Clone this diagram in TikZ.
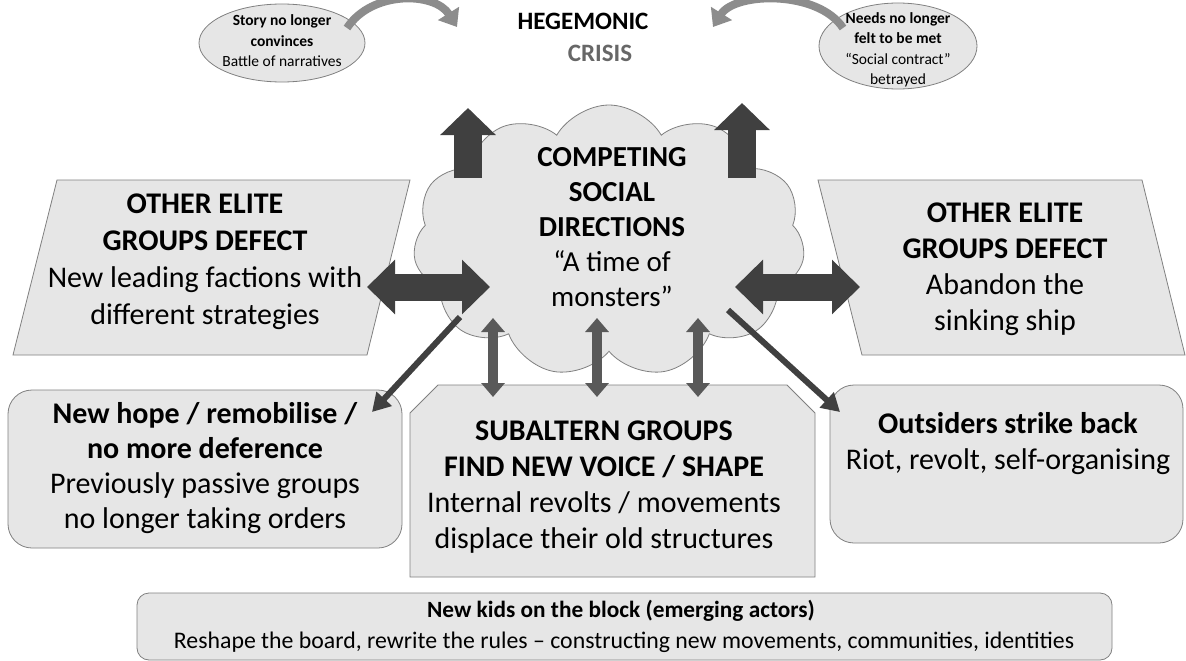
\documentclass[tikz,border=0pt]{standalone}
\usepackage{fontspec}
\setmainfont{Carlito}
\usetikzlibrary{arrows.meta,shapes.symbols,shapes.geometric}
\definecolor{boxfill}{HTML}{E6E6E6}
\definecolor{bordergray}{HTML}{808080}
\definecolor{darkarrow}{HTML}{404040}
\definecolor{midarrow}{HTML}{595959}
\definecolor{curvearrow}{HTML}{8C8C8C}
\definecolor{crisisgray}{HTML}{676767}
\begin{document}
\begin{tikzpicture}[x=1pt,y=-1pt,
  box/.style={draw=bordergray, fill=boxfill, line width=0.8pt},
  bigtext/.style={font=\fontsize{30}{36}\selectfont, align=center, inner sep=0pt},
  smalltext/.style={font=\fontsize{15.5}{20.5}\selectfont, align=center, inner sep=0pt},
  ellbox/.style={box, ellipse, inner sep=0pt},
  fatarrow/.style={draw=darkarrow, line width=27pt},
  fatup/.style={draw=darkarrow, line width=28pt, -{Triangle[length=27pt,width=54pt]}},
  thinboth/.style={draw=midarrow, line width=10pt, {Triangle[length=14pt,width=23pt]}-{Triangle[length=14pt,width=23pt]}},
  diagarrow/.style={draw=darkarrow, line width=6pt, -{Triangle[length=18pt,width=20pt]}},
  curvearr/.style={draw=curvearrow, line width=8pt, -{Triangle[length=16pt,width=24pt]}}
]
\useasboundingbox[fill=white] (0,0) rectangle (1186,661);

% ---- boxes ----
\path[box] (57,180) -- (410,180) -- (367,355) -- (13,355) -- cycle;
\path[box] (818,180) -- (1142,180) -- (1185,355) -- (862,355) -- cycle;
\path[box, rounded corners=24pt] (8,390) rectangle (402,548);
\path[box] (410,413) -- (438,385) -- (787,385) -- (815,413) -- (815,577) -- (410,577) -- cycle;
\path[box, rounded corners=24pt] (830,385) rectangle (1183,543);
\path[box, rounded corners=12pt] (137,593) rectangle (1112,660);

% ---- cloud ----
\node[box, cloud, cloud puffs=11, cloud puff arc=120, aspect=1.45,
      minimum width=392pt, minimum height=272pt, inner sep=0pt] (cloud) at (609,241) {};

% ---- ellipses ----
\node[ellbox, minimum width=166pt, minimum height=78pt] (storyell) at (282,43) {};
\node[ellbox, minimum width=158pt, minimum height=86pt] (needsell) at (898,46) {};

% ---- coordinates for connectors ----
\coordinate (dlA) at (367,287); \coordinate (dlB) at (490,287);
\coordinate (drA) at (735,287); \coordinate (drB) at (860,287);
\coordinate (ulA) at (468,178); \coordinate (ulB) at (468,108);
\coordinate (urA) at (742,178); \coordinate (urB) at (742,103);
\coordinate (v1A) at (493,318); \coordinate (v1B) at (493,397);
\coordinate (v2A) at (597,318); \coordinate (v2B) at (597,397);
\coordinate (v3A) at (698,318); \coordinate (v3B) at (698,397);
\coordinate (dgLA) at (460,317); \coordinate (dgLB) at (372,412);
\coordinate (dgRA) at (728,310); \coordinate (dgRB) at (840,412);
\coordinate (cvLA) at (347,28); \coordinate (cvLB) at (457,27);
\coordinate (cvRA) at (843,28); \coordinate (cvRB) at (713,27);

% ---- arrows ----
\draw[fatup] (ulA) -- (ulB);
\draw[fatup] (urA) -- (urB);
\draw[fatarrow, {Triangle[length=28pt,width=53pt]}-{Triangle[length=28pt,width=53pt]}] (dlA) -- (dlB);
\draw[fatarrow, {Triangle[length=28pt,width=53pt]}-{Triangle[length=28pt,width=53pt]}] (drA) -- (drB);
\draw[thinboth] (v1A) -- (v1B);
\draw[thinboth] (v2A) -- (v2B);
\draw[thinboth] (v3A) -- (v3B);
\draw[diagarrow] (dgLA) -- (dgLB);
\draw[diagarrow] (dgRA) -- (dgRB);
\draw[curvearr] (cvLA) .. controls (372,-10) and (435,-8) .. (cvLB);
\draw[curvearr] (cvRA) .. controls (818,-10) and (735,-8) .. (cvRB);

% ---- texts ----
\node[font=\fontsize{25}{30}\selectfont\bfseries, inner sep=0pt] (hegem) at (583,21) {HEGEMONIC};
\node[font=\fontsize{25}{30}\selectfont\bfseries, text=crisisgray, inner sep=0pt] (crisis) at (600,53) {CRISIS};

\node[smalltext] (storytxt) at (282,41) {\textbf{Story no longer}\\\textbf{convinces}\\Battle of narratives};
\node[smalltext] (needstxt) at (898,50) {\textbf{Needs no longer}\\\textbf{felt to be met}\\“Social contract”\\betrayed};

\node[bigtext, font=\fontsize{29}{35}\selectfont] (cloudtxt) at (612,227) {\textbf{COMPETING}\\\textbf{SOCIAL}\\\textbf{DIRECTIONS}\\“A time of\\monsters”};

\node[bigtext, font=\fontsize{30}{37}\selectfont] (eliteL) at (205,262) {\textbf{OTHER ELITE}\\\textbf{GROUPS DEFECT}\\New leading factions with\\different strategies};
\node[bigtext, font=\fontsize{30}{36}\selectfont] (eliteR) at (1005,269) {\textbf{OTHER ELITE}\\\textbf{GROUPS DEFECT}\\Abandon the\\sinking ship};

\node[bigtext, font=\fontsize{30}{35}\selectfont] (hope) at (205,468) {\textbf{New hope / remobilise /}\\\textbf{no more deference}\\Previously passive groups\\no longer taking orders};
\node[bigtext] (subaltern) at (604,487) {\textbf{SUBALTERN GROUPS}\\\textbf{FIND NEW VOICE / SHAPE}\\Internal revolts / movements\\displace their old structures};
\node[bigtext] (outsiders) at (1008,444) {\textbf{Outsiders strike back}\\Riot, revolt, self-organising};

\node[font=\fontsize{23.3}{26}\selectfont\bfseries, inner sep=0pt] (kids) at (621,611) {New kids on the block (emerging actors)};
\node[font=\fontsize{23.8}{26}\selectfont, inner sep=0pt] (reshape) at (624,642) {Reshape the board, rewrite the rules – constructing new movements, communities, identities};
\end{tikzpicture}
\end{document}
